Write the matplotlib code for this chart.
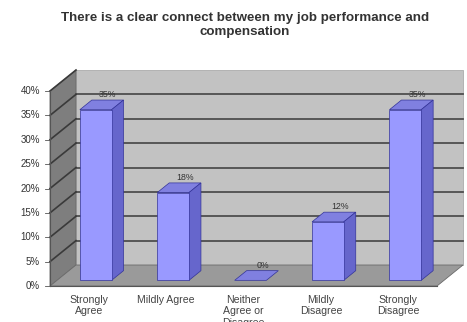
import matplotlib
matplotlib.use("Agg")
import matplotlib.pyplot as plt
from matplotlib.patches import Polygon

plt.rcParams['font.family'] = ['Liberation Sans', 'DejaVu Sans']

# données
categories = ['Strongly\nAgree', 'Mildly Agree', 'Neither\nAgree or\nDisagree',
              'Mildly\nDisagree', 'Strongly\nDisagree']
valeurs = [35, 18, 0, 12, 35]
etiquettes = ['35%', '18%', '0%', '12%', '35%']
graduations = [0, 5, 10, 15, 20, 25, 30, 35, 40]
titre = 'There is a clear connect between my job performance and\ncompensation'

W, H = 467, 322
fig = plt.figure(figsize=(W / 100, H / 100), dpi=100)
fig.patch.set_facecolor('white')

# plan avant de l'axe (en pixels)
gauche, droite, bas, haut = 50, 437, 286, 91
ax = fig.add_axes([gauche / W, 1 - bas / H, (droite - gauche) / W, (bas - haut) / H])
ax.set_xlim(-0.5, len(valeurs) - 0.5)
ax.set_ylim(0, 40)
ax.axis('off')

# décalage de profondeur (pixels -> unités de données)
DX = 26 / ((droite - gauche) / len(valeurs))
DY = 21 / ((bas - haut) / 40)


def proj(x, y, d):  # point 3D -> plan avant
    return (x + d * DX, y + d * DY)


def poly(pts, fc, ec='none', lw=0.6, z=1):
    p = Polygon([proj(*q) for q in pts], closed=True, facecolor=fc,
                edgecolor=ec, linewidth=lw, zorder=z, clip_on=False)
    ax.add_patch(p)


x0, x1 = -0.5, len(valeurs) - 0.5
ymax = graduations[-1]
# murs et sol
poly([(x0, 0, 1), (x1, 0, 1), (x1, ymax, 1), (x0, ymax, 1)], '#c2c2c2', '#a0a0a0', 0.5, 1)
poly([(x0, 0, 0), (x0, 0, 1), (x0, ymax, 1), (x0, ymax, 0)], '#7e7e7e', '#6a6a6a', 0.6, 1)
poly([(x0, 0, 0), (x1, 0, 0), (x1, 0, 1), (x0, 0, 1)], '#9a9a9a', '#6a6a6a', 0.6, 2)

# quadrillage
for g in graduations[1:-1]:
    a = proj(x0, g, 1)
    b = proj(x1, g, 1)
    ax.plot([a[0], b[0]], [a[1], b[1]], color='#4e4e4e', lw=1.3, zorder=1.5, clip_on=False)
for g in graduations[1:]:
    a = proj(x0, g, 1)
    c = proj(x0, g, 0)
    ax.plot([c[0], a[0]], [c[1], a[1]], color='#3a3a3a', lw=1.2, zorder=1.5, clip_on=False)

# graduations de l'axe Y
for g in graduations:
    ax.text(-0.5 - 0.13, g, '%d%%' % g, ha='right', va='center', fontsize=7,
            color='#333333')
    ax.plot([-0.5 - 0.06, -0.5], [g, g], color='#555555', lw=0.6, clip_on=False)
ax.plot([x0, x0], [0, ymax], color='#555555', lw=0.8, clip_on=False, zorder=3)
ax.plot([x0, x1], [0, 0], color='#555555', lw=0.8, clip_on=False, zorder=3)

# barres
largeur = 0.41
d0, d1 = 0.27, 0.73
face, cote, dessus, bord = '#9999ff', '#6666cc', '#8080e0', '#333399'
for i, v in enumerate(valeurs):
    a, b = i - largeur / 2, i + largeur / 2
    poly([(a, v, d0), (b, v, d0), (b, v, d1), (a, v, d1)], dessus, bord, 0.5, 4)
    if v > 0:
        poly([(b, 0, d0), (b, 0, d1), (b, v, d1), (b, v, d0)], cote, bord, 0.5, 4)
        poly([(a, 0, d0), (b, 0, d0), (b, v, d0), (a, v, d0)], face, bord, 0.5, 5)
    px, py = proj(i, v, d1)
    ax.text(px, py + 0.2, etiquettes[i], ha='center', va='bottom', fontsize=6.3,
            color='#333333', zorder=6)

# étiquettes des catégories
for i, c in enumerate(categories):
    ax.text(i, -1.9, c, ha='center', va='top', fontsize=7.6, color='#444444',
            linespacing=1.15, clip_on=False)

fig.text(0.525, 1 - 12 / H, titre, ha='center', va='top', fontsize=9.6,
         fontweight='bold', color='#333333', linespacing=1.25)

fig.savefig('out.png', dpi=100)
